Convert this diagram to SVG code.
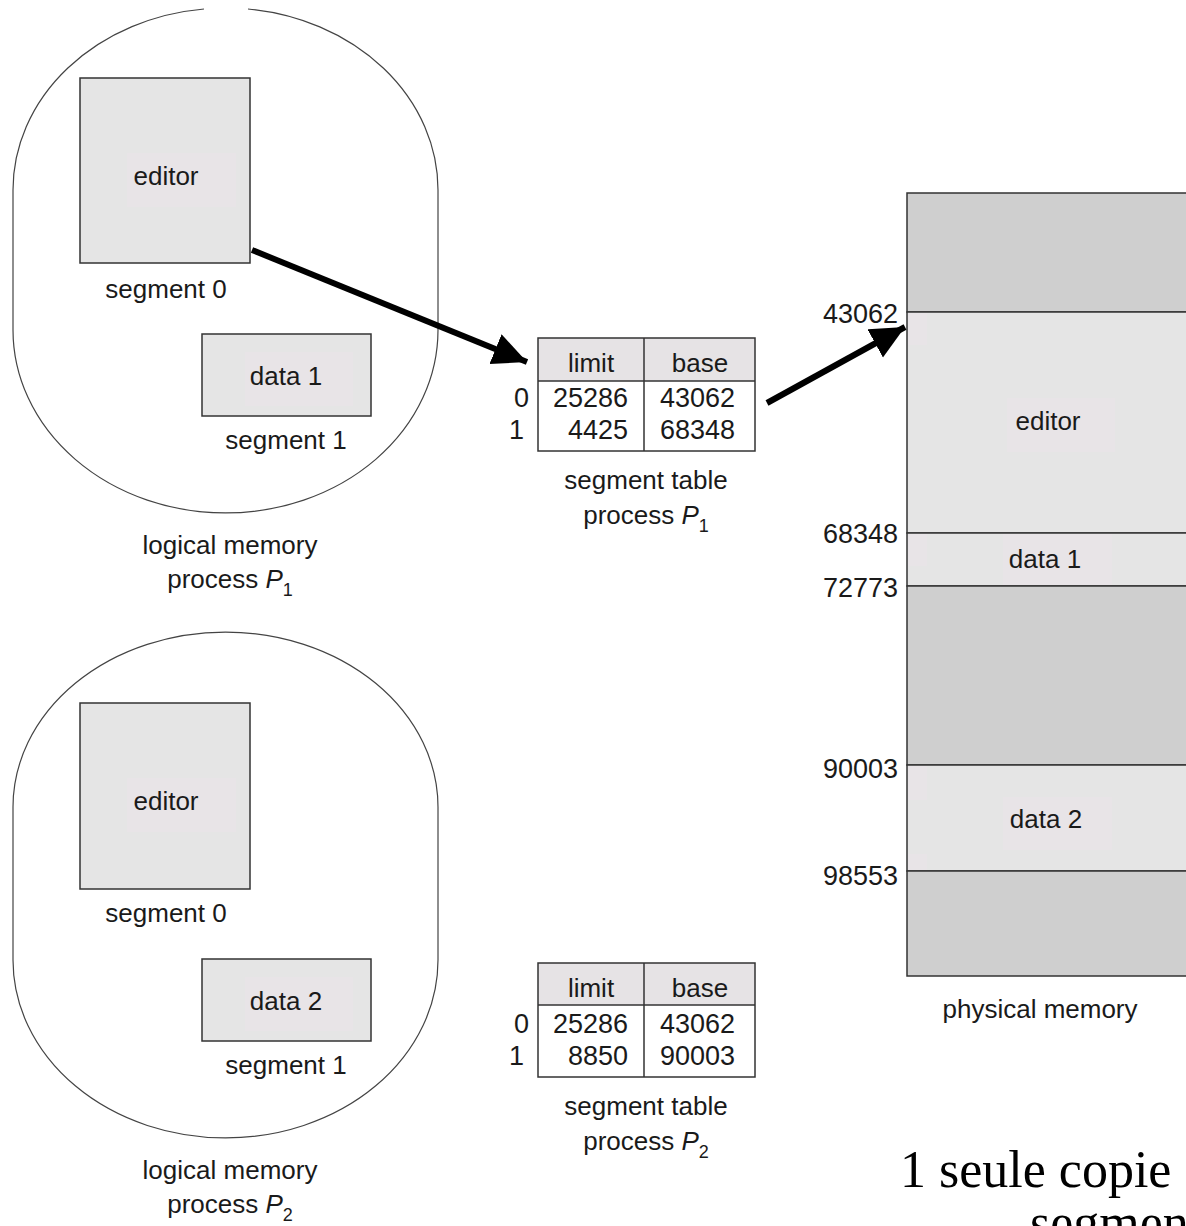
<svg xmlns="http://www.w3.org/2000/svg" width="1186" height="1226" viewBox="0 0 1186 1226">
  <style>
    text { font-family: "Liberation Sans", Arial, sans-serif; font-size: 26px; fill: #1a1a1a; }
    .c { text-anchor: middle; }
    .r { text-anchor: end; }
    .num { font-size: 27px; }
    .oval { fill: none; stroke: #444; stroke-width: 1.2; }
    .seg { fill: #e5e5e5; stroke: #333; stroke-width: 1.5; }
    .hl { fill: #e8e4e7; }
    .free { fill: #cfcfcf; stroke: #333; stroke-width: 1.5; }
    .used { fill: #e5e5e5; stroke: #333; stroke-width: 1.5; }
    .thead { fill: #e6e3e5; stroke: none; }
    .grid { fill: none; stroke: #333; stroke-width: 1.5; }
    .conn { stroke: #000; stroke-width: 6; fill: none; marker-end: url(#head); }
    .serif { font-family: "Liberation Serif", "Times New Roman", serif; font-size: 52px; fill: #000; }
    .sub { font-size: 18px; }
  </style>
  <defs>
    <marker id="head" markerUnits="userSpaceOnUse" markerWidth="36" markerHeight="34" refX="34" refY="16" orient="auto">
      <path d="M0,0 L34,16 L0,32 Z" fill="#000"/>
    </marker>
  </defs>

  <rect width="1186" height="1226" fill="#fff"/>

  <!-- logical memory, process P1 -->
  <g id="logical-p1">
    <path class="oval" d="M204,9 A212.5,182 0 0 0 13,190 L13,330 A212.5,183 0 0 0 438,330 L438,190 A212.5,182 0 0 0 248,9"/>
    <rect class="seg" x="80" y="78" width="170" height="185"/>
    <rect class="hl" x="127" y="153" width="109" height="54"/>
    <text class="c" x="166" y="185">editor</text>
    <text class="c" x="166" y="298">segment 0</text>
    <rect class="seg" x="202" y="334" width="169" height="82"/>
    <rect class="hl" x="245" y="352" width="108" height="54"/>
    <text class="c" x="286" y="385">data 1</text>
    <text class="c" x="286" y="449">segment 1</text>
    <text class="c" x="230" y="554">logical memory</text>
    <text class="c" x="230" y="588">process <tspan font-style="italic">P</tspan><tspan class="sub" dy="8">1</tspan></text>
  </g>

  <!-- segment table, process P1 -->
  <g id="table-p1">
    <rect class="thead" x="538" y="338" width="217" height="43"/>
    <rect class="grid" x="538" y="338" width="217" height="113"/>
    <line class="grid" x1="538" y1="381" x2="755" y2="381"/>
    <line class="grid" x1="644" y1="338" x2="644" y2="451"/>
    <text class="c" x="591" y="372">limit</text>
    <text class="c" x="700" y="372">base</text>
    <text class="r num" x="529" y="407">0</text>
    <text class="r num" x="524" y="439">1</text>
    <text class="r num" x="628" y="407">25286</text>
    <text class="r num" x="628" y="439">4425</text>
    <text class="r num" x="735" y="407">43062</text>
    <text class="r num" x="735" y="439">68348</text>
    <text class="c" x="646" y="489">segment table</text>
    <text class="c" x="646" y="524">process <tspan font-style="italic">P</tspan><tspan class="sub" dy="8">1</tspan></text>
  </g>

  <!-- physical memory -->
  <g id="physical-memory">
    <rect class="free" x="907" y="193" width="290" height="119"/>
    <rect class="used" x="907" y="312" width="290" height="221"/>
    <rect class="used" x="907" y="533" width="290" height="53"/>
    <rect class="free" x="907" y="586" width="290" height="179"/>
    <rect class="used" x="907" y="765" width="290" height="106"/>
    <rect class="free" x="907" y="871" width="290" height="105"/>
    <rect class="hl" x="908" y="313" width="19" height="32"/>
    <rect class="hl" x="908" y="534" width="19" height="32"/>
    <rect class="hl" x="908" y="766" width="19" height="34"/>
    <rect class="hl" x="908" y="854" width="19" height="16"/>
    <rect class="hl" x="1007" y="398" width="108" height="54"/>
    <text class="c" x="1048" y="430">editor</text>
    <rect class="hl" x="1003" y="534" width="109" height="51"/>
    <text class="c" x="1045" y="568">data 1</text>
    <rect class="hl" x="1003" y="797" width="109" height="53"/>
    <text class="c" x="1046" y="828">data 2</text>
    <text class="r num" x="898" y="323">43062</text>
    <text class="r num" x="898" y="543">68348</text>
    <text class="r num" x="898" y="597">72773</text>
    <text class="r num" x="898" y="778">90003</text>
    <text class="r num" x="898" y="885">98553</text>
    <text class="c" x="1040" y="1018">physical memory</text>
  </g>

  <!-- logical memory, process P2 -->
  <g id="logical-p2">
    <path class="oval" d="M13,807 A212.5,175 0 0 1 438,807 L438,960 A212.5,178 0 0 1 13,960 Z"/>
    <rect class="seg" x="80" y="703" width="170" height="186"/>
    <rect class="hl" x="127" y="778" width="109" height="54"/>
    <text class="c" x="166" y="810">editor</text>
    <text class="c" x="166" y="922">segment 0</text>
    <rect class="seg" x="202" y="959" width="169" height="82"/>
    <rect class="hl" x="245" y="977" width="108" height="54"/>
    <text class="c" x="286" y="1010">data 2</text>
    <text class="c" x="286" y="1074">segment 1</text>
    <text class="c" x="230" y="1179">logical memory</text>
    <text class="c" x="230" y="1213">process <tspan font-style="italic">P</tspan><tspan class="sub" dy="8">2</tspan></text>
  </g>

  <!-- segment table, process P2 -->
  <g id="table-p2">
    <rect class="thead" x="538" y="963" width="217" height="42"/>
    <rect class="grid" x="538" y="963" width="217" height="114"/>
    <line class="grid" x1="538" y1="1005" x2="755" y2="1005"/>
    <line class="grid" x1="644" y1="963" x2="644" y2="1077"/>
    <text class="c" x="591" y="997">limit</text>
    <text class="c" x="700" y="997">base</text>
    <text class="r num" x="529" y="1033">0</text>
    <text class="r num" x="524" y="1065">1</text>
    <text class="r num" x="628" y="1033">25286</text>
    <text class="r num" x="628" y="1065">8850</text>
    <text class="r num" x="735" y="1033">43062</text>
    <text class="r num" x="735" y="1065">90003</text>
    <text class="c" x="646" y="1115">segment table</text>
    <text class="c" x="646" y="1150">process <tspan font-style="italic">P</tspan><tspan class="sub" dy="8">2</tspan></text>
  </g>

  <!-- note, running past the right and bottom edges -->
  <g id="note">
    <text class="serif" x="900" y="1187">1 seule copie</text>
    <text class="serif" x="1030" y="1240">segment</text>
  </g>

  <!-- connectors -->
  <g id="connectors">
    <line class="conn" x1="252" y1="250" x2="527" y2="362"/>
    <line class="conn" x1="767" y1="403" x2="905" y2="327"/>
  </g>
</svg>
